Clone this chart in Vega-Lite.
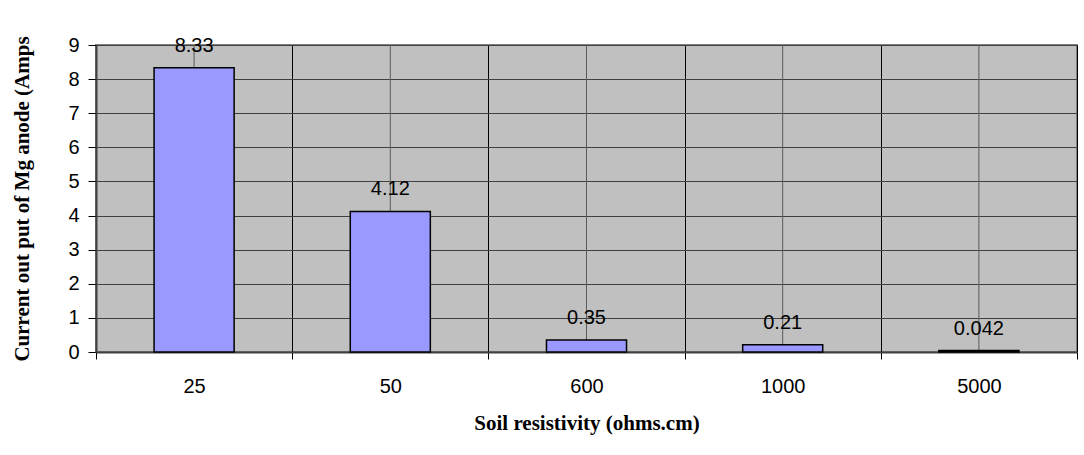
{
  "$schema": "https://vega.github.io/schema/vega-lite/v6.json",
  "autosize": "none",
  "width": 981,
  "height": 307,
  "padding": {"left": 96, "top": 45, "right": 7, "bottom": 103},
  "background": "white",
  "data": {
    "values": [
      {"resistivity": "25", "current": 8.33, "label": "8.33"},
      {"resistivity": "50", "current": 4.12, "label": "4.12"},
      {"resistivity": "600", "current": 0.35, "label": "0.35"},
      {"resistivity": "1000", "current": 0.21, "label": "0.21"},
      {"resistivity": "5000", "current": 0.042, "label": "0.042"}
    ]
  },
  "encoding": {
    "x": {
      "field": "resistivity",
      "type": "nominal",
      "sort": null,
      "scale": {"paddingInner": 0, "paddingOuter": 0},
      "axis": {
        "title": "Soil resistivity (ohms.cm)",
        "labelAngle": 0,
        "tickBand": "extent",
        "grid": true,
        "gridColor": "#000000",
        "gridWidth": 1,
        "gridOpacity": 1,
        "domainColor": "#404040",
        "domainWidth": 2,
        "tickColor": "#000000",
        "tickSize": 7,
        "labelFont": "Liberation Sans",
        "labelFontSize": 20,
        "labelColor": "#000000",
        "labelPadding": 17,
        "titleFont": "Liberation Serif",
        "titleFontWeight": "bold",
        "titleFontSize": 21,
        "titleColor": "#000000",
        "titlePadding": 16
      }
    },
    "y": {
      "field": "current",
      "type": "quantitative",
      "scale": {"domain": [0, 9], "nice": false},
      "axis": {
        "title": "Current out put of Mg anode (Amps",
        "values": [0, 1, 2, 3, 4, 5, 6, 7, 8, 9],
        "labelOverlap": false,
        "grid": true,
        "gridColor": "#404040",
        "gridWidth": 1,
        "gridOpacity": 1,
        "domainColor": "#404040",
        "domainWidth": 2,
        "tickColor": "#000000",
        "tickSize": 8,
        "labelFont": "Liberation Sans",
        "labelFontSize": 20,
        "labelColor": "#000000",
        "labelPadding": 9,
        "titleFont": "Liberation Serif",
        "titleFontWeight": "bold",
        "titleFontSize": 21,
        "titleColor": "#000000",
        "titlePadding": 35
      }
    }
  },
  "layer": [
    {
      "mark": {"type": "rule", "color": "#5a5a5a", "strokeWidth": 1},
      "encoding": {
        "y": {"datum": 0, "type": "quantitative"},
        "y2": {"datum": 9}
      }
    },
    {
      "mark": {"type": "bar", "width": {"band": 0.408}, "fill": "#9999FF", "stroke": "#000000", "strokeWidth": 1.5}
    },
    {
      "mark": {"type": "text", "font": "Liberation Sans", "fontSize": 20, "color": "#000000", "baseline": "bottom", "dy": -12},
      "encoding": {
        "text": {"field": "label"}
      }
    }
  ],
  "config": {
    "view": {"fill": "#C0C0C0", "stroke": "#808080", "strokeWidth": 2}
  }
}
